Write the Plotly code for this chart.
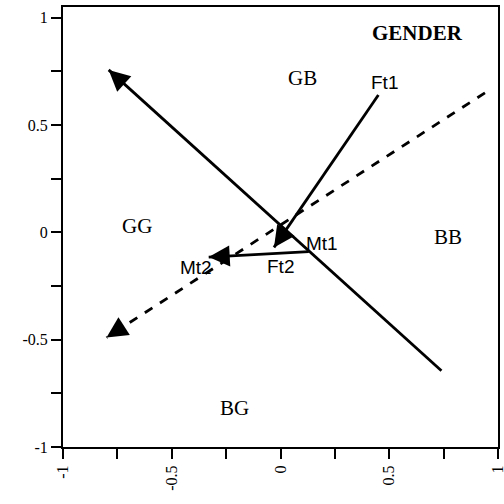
import math
import plotly.graph_objects as go

# Vectors: (x_tail, y_tail, x_head, y_head, dashed)
vec_tail_x = [0.74, 0.94, 0.45, 0.13]
vec_tail_y = [-0.645, 0.65, 0.64, -0.09]
vec_head_x = [-0.79, -0.80, -0.03, -0.33]
vec_head_y = [0.757, -0.49, -0.07, -0.115]
vec_dashed = [False, True, False, False]

# Region labels (serif)
region_labels = ["GB", "GG", "BB", "BG"]
region_x = [0.10, -0.66, 0.77, -0.21]
region_y = [0.72, 0.03, -0.02, -0.82]

# Point labels (sans)
point_labels = ["Ft1", "Mt1", "Mt2", "Ft2"]
point_x = [0.48, 0.19, -0.39, 0.0]
point_y = [0.70, -0.05, -0.165, -0.16]

title_text = "GENDER"
title_x, title_y = 0.63, 0.93

tick_vals = [-1, -0.5, 0, 0.5, 1]
tick_text = ["-1", "-0.5", "0", "0.5", "1"]

X_RANGE = [-1, 1]
Y_RANGE = [-1, 1.05]
W, H = 504, 504
ML, MR, MT, MB = 63, 6, 7, 57
px_per_x = (W - ML - MR) / (X_RANGE[1] - X_RANGE[0])
px_per_y = (H - MT - MB) / (Y_RANGE[1] - Y_RANGE[0])

fig = go.Figure()

for tx, ty, hx, hy, d in zip(vec_tail_x, vec_tail_y, vec_head_x, vec_head_y, vec_dashed):
    fig.add_trace(go.Scatter(x=[tx, hx], y=[ty, hy], mode="lines",
                             line=dict(color="black", width=2.8,
                                       dash="dash" if d else "solid"),
                             showlegend=False, hoverinfo="skip"))
    # arrowhead only: short arrow in pixel units along the vector direction
    dxp = (tx - hx) * px_per_x
    dyp = -(ty - hy) * px_per_y
    n = math.hypot(dxp, dyp)
    fig.add_annotation(x=hx, y=hy, ax=dxp / n * 22, ay=dyp / n * 22, xref="x", yref="y",
                       axref="pixel", ayref="pixel", showarrow=True, arrowhead=2,
                       arrowsize=1.5, arrowwidth=2.8, arrowcolor="black", text="")

for t, x, y in zip(region_labels, region_x, region_y):
    fig.add_annotation(x=x, y=y, text=t, showarrow=False,
                       font=dict(family="Liberation Serif", size=21, color="black"))
for t, x, y in zip(point_labels, point_x, point_y):
    fig.add_annotation(x=x, y=y, text=t, showarrow=False,
                       font=dict(family="Liberation Sans", size=19, color="black"))
fig.add_annotation(x=title_x, y=title_y, text="<b>" + title_text + "</b>", showarrow=False,
                   font=dict(family="Liberation Serif", size=21, color="black"))

fig.update_layout(
    width=W, height=H,
    margin=dict(l=ML, r=MR, t=MT, b=MB, autoexpand=False),
    paper_bgcolor="white", plot_bgcolor="white",
    showlegend=False,
)
axis_common = dict(showgrid=False, zeroline=False, showline=True, linecolor="black",
                   linewidth=2, mirror=True, ticks="outside", ticklen=10, tickwidth=2,
                   tickcolor="black", tickvals=tick_vals, ticktext=tick_text,
                   ticklabeloverflow="allow", automargin=False,
                   tickfont=dict(family="Liberation Serif", size=16, color="black"),
                   minor=dict(ticks="outside", ticklen=10, tickwidth=2, tickcolor="black", dtick=0.25))
fig.update_xaxes(range=X_RANGE, tickangle=-90, **axis_common)
fig.update_yaxes(range=Y_RANGE, **axis_common)

fig.write_html("out.html")
